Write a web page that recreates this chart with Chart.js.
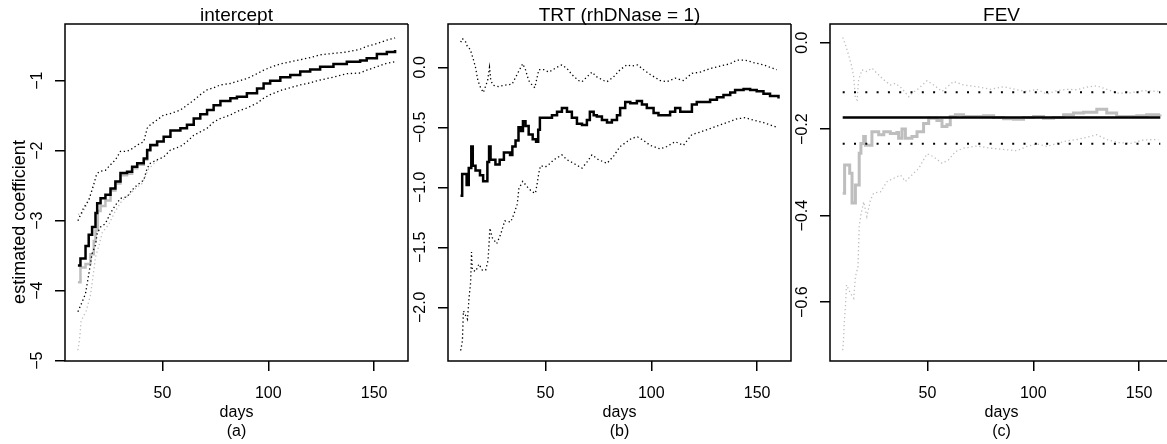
<!DOCTYPE html>
<html>
<head>
<meta charset="utf-8">
<script src="https://cdn.jsdelivr.net/npm/chart.js@4.4.0/dist/chart.umd.min.js"></script>
<style>
  html, body { margin: 0; padding: 0; background: #fff; overflow: hidden; }
  #stage { position: relative; width: 1167px; height: 444px; overflow: hidden; }
  #stage canvas { position: absolute; top: 0; }
</style>
</head>
<body>
<div id="stage">
  <canvas id="panelA" width="410" height="444" style="left:0px"></canvas>
  <canvas id="panelB" width="410" height="444" style="left:383px"></canvas>
  <canvas id="panelC" width="402" height="444" style="left:765px"></canvas>
</div>
<script>
// ticks
const dayTicks = [50, 100, 150];
const aTicks = [-5, -4, -3, -2, -1];
const bTicks = [-2, -1.5, -1, -0.5, 0];
const cTicks = [-0.6, -0.4, -0.2, 0];

// (a) intercept: [day, value]
const aEst = [[10.1,-3.64],[11.3,-3.54],[13.7,-3.36],[15.2,-3.20],[16.8,-3.09],[18.4,-2.89],[19.2,-2.75],[20.8,-2.68],[23.1,-2.63],[25.5,-2.54],[27.8,-2.44],[30.2,-2.32],[33.3,-2.30],[35.7,-2.23],[38.1,-2.18],[41.2,-2.11],[42.8,-1.99],[44.3,-1.92],[47.5,-1.87],[50.6,-1.80],[53.8,-1.71],[58.5,-1.68],[61.6,-1.63],[64.8,-1.54],[67.9,-1.48],[71.1,-1.42],[74.2,-1.35],[77.4,-1.29],[82.1,-1.25],[85.2,-1.23],[89.9,-1.18],[94.7,-1.11],[97.8,-1.04],[100.9,-1.00],[105.7,-0.95],[110.4,-0.92],[115.1,-0.87],[119.8,-0.84],[124.5,-0.80],[130.8,-0.76],[137.1,-0.73],[143.4,-0.71],[146.5,-0.68],[151.3,-0.62],[156.0,-0.59],[159.9,-0.56]];
const aUpper = [[10.1,-3.00],[11.3,-2.92],[12.6,-2.83],[15.3,-2.70],[17.6,-2.48],[18.8,-2.35],[20.0,-2.30],[23.1,-2.28],[25.5,-2.20],[27.8,-2.13],[30.2,-2.01],[33.3,-2.01],[35.7,-1.97],[38.1,-1.92],[41.2,-1.87],[42.8,-1.68],[44.3,-1.63],[47.5,-1.56],[50.6,-1.49],[53.8,-1.47],[58.5,-1.42],[61.6,-1.35],[64.8,-1.28],[67.9,-1.20],[71.1,-1.13],[74.2,-1.10],[77.4,-1.06],[82.1,-1.04],[85.2,-1.01],[89.9,-0.97],[94.7,-0.90],[97.8,-0.85],[100.9,-0.81],[105.7,-0.76],[110.4,-0.73],[115.1,-0.70],[119.8,-0.67],[124.5,-0.63],[130.8,-0.61],[137.1,-0.59],[143.4,-0.55],[146.5,-0.51],[151.3,-0.47],[156.0,-0.42],[159.9,-0.39]];
const aLower = [[10.1,-4.30],[12.1,-4.16],[13.7,-4.04],[15.3,-3.75],[16.8,-3.47],[18.4,-3.35],[19.2,-3.18],[20.8,-3.09],[23.1,-3.04],[25.5,-2.89],[27.8,-2.78],[30.2,-2.68],[33.3,-2.66],[35.7,-2.56],[38.1,-2.49],[41.2,-2.42],[42.8,-2.25],[44.3,-2.18],[47.5,-2.13],[50.6,-2.09],[53.8,-1.99],[58.5,-1.94],[61.6,-1.87],[64.8,-1.78],[67.9,-1.73],[71.1,-1.68],[74.2,-1.59],[77.4,-1.54],[82.1,-1.49],[85.2,-1.44],[89.9,-1.39],[94.7,-1.32],[97.8,-1.25],[100.9,-1.20],[105.7,-1.14],[110.4,-1.10],[115.1,-1.06],[119.8,-1.03],[124.5,-0.99],[130.8,-0.95],[137.1,-0.90],[143.4,-0.89],[146.5,-0.85],[151.3,-0.80],[156.0,-0.75],[159.9,-0.73]];
const aEstGrey = [[10.1,-3.88],[11.3,-3.67],[13.7,-3.62],[16.0,-3.48],[17.6,-3.29],[18.4,-3.14],[19.5,-2.86],[20.8,-2.79],[23.1,-2.71],[25.5,-2.57],[27.8,-2.47],[30.2,-2.35],[33.3,-2.33],[35.7,-2.25],[38.1,-2.20],[41.2,-2.13],[42.8,-2.00],[44.3,-1.93],[47.5,-1.87]];
const aUpperGrey = [[10.1,-2.91],[12.0,-2.90],[13.5,-2.82],[15.3,-2.70],[17.6,-2.48]];
const aLowerGrey = [[10.1,-4.85],[10.8,-4.70],[11.3,-4.55],[11.6,-4.43],[14.0,-4.29],[16.0,-4.07],[17.6,-3.71],[18.4,-3.52],[20.0,-3.36],[21.6,-3.17],[24.7,-3.05],[27.8,-2.86],[31.0,-2.71],[34.1,-2.64],[37.3,-2.54],[40.4,-2.47],[43.5,-2.26],[47.5,-2.14]];

// (b) TRT (rhDNase = 1)
const bEst = [[9.9,-1.07],[10.7,-0.89],[12.8,-0.98],[13.8,-0.84],[15.0,-0.66],[15.7,-0.82],[17.0,-0.86],[19.1,-0.90],[20.6,-0.95],[22.6,-0.79],[23.4,-0.66],[24.1,-0.77],[26.4,-0.81],[28.4,-0.77],[30.4,-0.71],[33.3,-0.73],[34.4,-0.66],[35.9,-0.61],[37.3,-0.50],[38.5,-0.53],[39.4,-0.45],[40.6,-0.49],[42.1,-0.56],[44.0,-0.60],[45.6,-0.62],[46.6,-0.52],[47.4,-0.42],[50.8,-0.42],[53.1,-0.40],[55.5,-0.37],[57.8,-0.34],[60.2,-0.37],[62.5,-0.42],[64.9,-0.47],[67.3,-0.48],[69.6,-0.44],[71.0,-0.37],[72.8,-0.40],[74.3,-0.41],[76.7,-0.44],[79.1,-0.46],[81.4,-0.44],[83.8,-0.40],[85.3,-0.34],[87.7,-0.29],[90.1,-0.30],[93.2,-0.28],[95.6,-0.31],[97.9,-0.34],[101.1,-0.38],[103.4,-0.40],[105.8,-0.40],[108.9,-0.37],[111.3,-0.34],[113.7,-0.37],[116.8,-0.37],[119.2,-0.31],[121.5,-0.29],[124.7,-0.29],[127.8,-0.27],[131.0,-0.25],[134.1,-0.23],[137.3,-0.21],[139.6,-0.19],[143.6,-0.18],[146.7,-0.19],[149.8,-0.20],[153.0,-0.22],[156.1,-0.24],[160.1,-0.26]];
const bUpper = [[10.0,0.21],[10.8,0.24],[12.4,0.21],[13.2,0.17],[14.5,0.15],[15.9,0.07],[17.0,0.00],[18.1,-0.11],[19.4,-0.17],[20.7,-0.21],[22.7,-0.11],[23.6,0.00],[24.2,-0.11],[25.4,-0.15],[27.8,-0.16],[30.2,-0.15],[34.3,-0.14],[36.6,-0.06],[39.3,0.03],[40.6,-0.02],[42.1,-0.11],[43.4,-0.14],[45.0,-0.17],[46.9,-0.02],[49.2,-0.02],[51.6,-0.04],[55.4,0.00],[57.8,0.02],[60.2,-0.01],[62.5,-0.06],[65.6,-0.11],[67.3,-0.12],[69.6,-0.08],[72.0,-0.04],[74.3,-0.08],[77.5,-0.11],[79.1,-0.12],[82.2,-0.08],[85.3,-0.02],[88.5,0.02],[90.9,0.01],[93.5,0.02],[96.4,-0.02],[99.5,-0.06],[104.2,-0.11],[107.4,-0.12],[111.3,-0.09],[115.2,-0.11],[119.2,-0.05],[123.1,-0.04],[127.8,-0.01],[132.5,0.01],[137.3,0.03],[140.4,0.06],[144.3,0.06],[148.3,0.04],[153.0,0.02],[159.3,-0.02]];
const bLower = [[10.0,-2.36],[10.8,-2.28],[11.0,-2.18],[11.3,-2.03],[13.2,-2.10],[13.9,-1.93],[14.3,-1.86],[14.7,-1.79],[15.1,-1.54],[15.5,-1.69],[17.1,-1.70],[18.6,-1.64],[20.2,-1.69],[21.8,-1.69],[22.9,-1.61],[23.8,-1.34],[24.9,-1.42],[27.0,-1.47],[28.9,-1.39],[30.8,-1.28],[33.6,-1.29],[35.2,-1.22],[36.7,-1.14],[37.5,-1.01],[39.3,-0.95],[42.1,-1.01],[44.0,-1.04],[45.3,-1.05],[46.1,-0.97],[46.9,-0.88],[47.7,-0.82],[50.0,-0.83],[51.6,-0.81],[54.0,-0.77],[57.8,-0.73],[60.2,-0.77],[63.3,-0.80],[67.3,-0.84],[69.6,-0.79],[72.0,-0.73],[75.1,-0.77],[79.1,-0.80],[82.2,-0.74],[85.3,-0.66],[88.5,-0.62],[90.9,-0.59],[93.5,-0.58],[96.4,-0.61],[99.5,-0.65],[104.2,-0.68],[107.4,-0.66],[111.3,-0.62],[115.2,-0.65],[119.2,-0.56],[123.1,-0.54],[127.8,-0.51],[132.5,-0.48],[137.3,-0.45],[140.4,-0.43],[144.3,-0.42],[148.3,-0.44],[153.0,-0.46],[159.3,-0.50]];

// (c) FEV
const cFixedDays = [10, 160];
const cFixedEst = [-0.173, -0.173];
const cFixedUpper = [-0.115, -0.115];
const cFixedLower = [-0.234, -0.234];
const cEstGrey = [[10.0,-0.348],[10.9,-0.283],[13.3,-0.302],[14.4,-0.371],[16.0,-0.329],[17.8,-0.256],[18.6,-0.233],[19.9,-0.217],[20.7,-0.237],[23.8,-0.206],[27.0,-0.213],[29.4,-0.206],[32.5,-0.210],[35.6,-0.208],[36.4,-0.221],[38.0,-0.200],[39.6,-0.221],[42.7,-0.217],[45.1,-0.206],[48.2,-0.187],[50.6,-0.175],[54.5,-0.180],[56.9,-0.194],[59.2,-0.190],[60.8,-0.171],[63.2,-0.167],[67.1,-0.171],[76.5,-0.169],[81.3,-0.173],[86.0,-0.176],[90.7,-0.177],[95.4,-0.173],[100.1,-0.171],[104.8,-0.175],[109.6,-0.173],[114.3,-0.167],[119.0,-0.163],[123.7,-0.161],[130.0,-0.154],[134.7,-0.163],[139.4,-0.171],[148.9,-0.169],[153.6,-0.167],[159.9,-0.166]];
const cUpperGrey = [[10.0,0.012],[11.3,-0.005],[12.8,-0.029],[14.1,-0.052],[15.2,-0.079],[16.0,-0.129],[16.8,-0.133],[17.5,-0.086],[19.1,-0.063],[21.4,-0.067],[23.8,-0.059],[26.2,-0.071],[29.4,-0.086],[32.5,-0.098],[34.9,-0.094],[38.0,-0.106],[41.2,-0.125],[42.7,-0.117],[45.9,-0.106],[49.8,-0.088],[53.0,-0.098],[56.9,-0.113],[59.2,-0.103],[62.4,-0.090],[67.1,-0.098],[73.4,-0.102],[79.7,-0.108],[86.0,-0.102],[92.3,-0.109],[97.0,-0.113],[101.7,-0.108],[106.4,-0.119],[111.2,-0.111],[115.9,-0.108],[120.6,-0.109],[125.3,-0.103],[130.0,-0.100],[134.7,-0.108],[140.2,-0.117],[145.8,-0.116],[152.1,-0.111],[159.1,-0.113]];
const cLowerGrey = [[10.0,-0.711],[10.4,-0.687],[10.6,-0.660],[10.8,-0.641],[11.3,-0.610],[11.8,-0.560],[13.7,-0.580],[15.2,-0.591],[16.0,-0.541],[17.2,-0.518],[17.5,-0.472],[17.8,-0.425],[18.6,-0.398],[19.9,-0.368],[21.4,-0.402],[23.1,-0.364],[24.6,-0.348],[27.8,-0.345],[31.0,-0.321],[37.3,-0.306],[39.6,-0.321],[42.7,-0.306],[45.9,-0.291],[49.8,-0.257],[53.0,-0.264],[56.9,-0.279],[60.0,-0.271],[63.2,-0.252],[67.1,-0.244],[73.4,-0.239],[79.7,-0.244],[86.0,-0.247],[92.3,-0.250],[97.0,-0.240],[101.7,-0.234],[106.4,-0.240],[111.2,-0.233],[115.9,-0.227],[120.6,-0.224],[125.3,-0.219],[130.0,-0.213],[134.7,-0.224],[140.2,-0.231],[145.8,-0.233],[152.1,-0.225],[159.1,-0.224]];

const FONT = '"Liberation Sans", Arial, Helvetica, sans-serif';
const BLACK = "#000000";
const GREY = "#bebebe";

const pts = (arr) => arr.map(([x, y]) => ({ x, y }));
const zip = (xs, ys) => xs.map((x, i) => ({ x, y: ys[i] }));

// estimates are step functions, bands are drawn as dotted curves
const stepLine = (data, color, width) => ({
  data: data, borderColor: color, borderWidth: width,
  stepped: true, pointRadius: 0, fill: false
});
const dotLine = (data, color, width, dash) => ({
  data: data, borderColor: color, borderWidth: width, borderDash: dash,
  stepped: false, tension: 0, pointRadius: 0, fill: false
});

const fmt = (digits) => (v) => (v < 0 ? "\u2212" : "") + Math.abs(v).toFixed(digits);

// R-style frame, tick labels and titles
const rFrame = {
  id: "rFrame",
  afterDraw(chart, args, opts) {
    const { ctx, chartArea: a, scales } = chart;
    const cx = (a.left + a.right) / 2;
    const right = opts.rightEdge ? a.right : chart.width;
    ctx.save();
    ctx.strokeStyle = BLACK;
    ctx.lineWidth = 1.5;
    ctx.beginPath();
    ctx.moveTo(right, a.top);
    ctx.lineTo(a.left, a.top);
    ctx.lineTo(a.left, a.bottom);
    ctx.lineTo(right, a.bottom);
    if (opts.rightEdge) ctx.lineTo(a.right, a.top);
    ctx.stroke();

    ctx.fillStyle = BLACK;
    ctx.font = "16px " + FONT;
    ctx.textAlign = "center";
    ctx.textBaseline = "alphabetic";
    scales.x.ticks.forEach((t) => {
      ctx.fillText(String(t.value), scales.x.getPixelForValue(t.value), 398);
    });
    scales.y.ticks.forEach((t) => {
      ctx.save();
      ctx.translate(a.left - 23, scales.y.getPixelForValue(t.value));
      ctx.rotate(-Math.PI / 2);
      ctx.fillText(opts.fmt(t.value), 0, 0);
      ctx.restore();
    });
    const mid = opts.centerX || cx;
    ctx.fillText("days", mid, 417);
    ctx.fillText(opts.sub, mid, 436);
    if (opts.ylab) {
      ctx.save();
      ctx.translate(25, 222);
      ctx.rotate(-Math.PI / 2);
      ctx.font = "18px " + FONT;
      ctx.fillText(opts.ylab, 0, 0);
      ctx.restore();
    }
    ctx.font = "19px " + FONT;
    ctx.fillText(opts.title, mid, 21);
    ctx.restore();
  }
};

const axis = (min, max, ticks, isX) => ({
  type: "linear",
  min: min,
  max: max,
  afterBuildTicks: (s) => { s.ticks = ticks.map((v) => ({ value: v })); },
  afterFit: (s) => { if (isX) s.height = 83; else s.width = 65; },
  ticks: { display: false },
  grid: { display: true, drawOnChartArea: false, drawTicks: true, tickLength: 10, color: BLACK, lineWidth: 1.5 },
  border: { display: false }
});

const makePanel = (id, datasets, xMax, yMin, yMax, yTicks, frame, padRight) => new Chart(document.getElementById(id), {
  type: "line",
  data: { datasets: datasets },
  options: {
    responsive: false,
    animation: false,
    layout: { padding: { top: 24, right: padRight, left: 0, bottom: 0 } },
    plugins: { legend: { display: false }, tooltip: { enabled: false }, rFrame: frame },
    scales: { x: axis(4, xMax, dayTicks, true), y: axis(yMin, yMax, yTicks, false) }
  },
  plugins: [rFrame]
});

const DOT = [1.3, 2.7];

makePanel("panelA", [
  stepLine(pts(aEst), BLACK, 2.5),
  dotLine(pts(aUpper), BLACK, 1.3, DOT),
  dotLine(pts(aLower), BLACK, 1.3, DOT),
  stepLine(pts(aEstGrey), GREY, 2.5),
  dotLine(pts(aUpperGrey), GREY, 1.3, DOT),
  dotLine(pts(aLowerGrey), GREY, 1.3, DOT)
], 166, -5.004, -0.19, aTicks, { title: "intercept", sub: "(a)", ylab: "estimated coefficient", fmt: fmt(0), rightEdge: true }, 2);

makePanel("panelB", [
  stepLine(pts(bEst), BLACK, 2.5),
  dotLine(pts(bUpper), BLACK, 1.3, DOT),
  dotLine(pts(bLower), BLACK, 1.3, DOT)
], 166, -2.4475, 0.361, bTicks, { title: "TRT (rhDNase = 1)", sub: "(b)", fmt: fmt(1), rightEdge: true }, 2);

// panel (c) is cut by the picture's right edge: its plot area is 337 px of
// the full 343, so the visible x range ends at 4 + 162 * 337 / 343
makePanel("panelC", [
  dotLine(zip(cFixedDays, cFixedEst), BLACK, 2.5, []),
  dotLine(zip(cFixedDays, cFixedUpper), BLACK, 2, [2, 9.3]),
  dotLine(zip(cFixedDays, cFixedLower), BLACK, 2, [2, 9.3]),
  stepLine(pts(cEstGrey), GREY, 3),
  dotLine(pts(cUpperGrey), GREY, 1.3, DOT),
  dotLine(pts(cLowerGrey), GREY, 1.3, DOT)
], 4 + 162 * 337 / 343, -0.736, 0.043, cTicks, { title: "FEV", sub: "(c)", fmt: fmt(1), rightEdge: false, centerX: 236.5 }, 0);
</script>
</body>
</html>
